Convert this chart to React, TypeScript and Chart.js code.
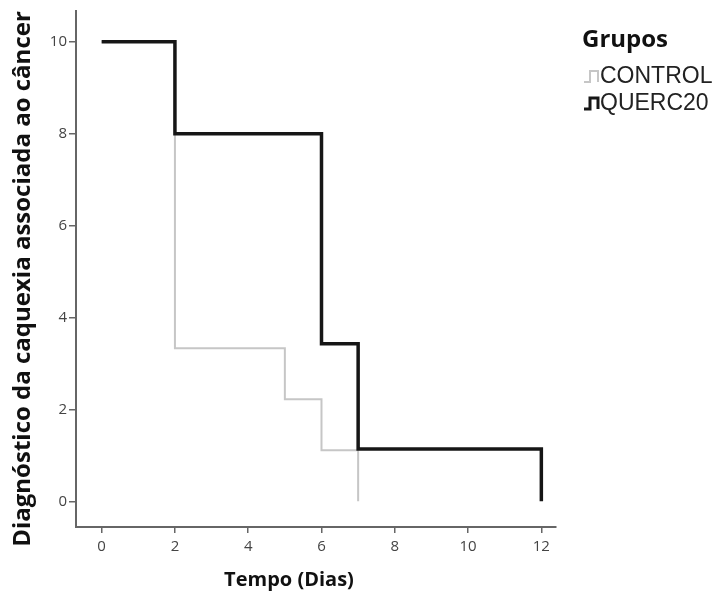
import React, { useEffect, useRef } from "react";
import { Chart, registerables } from "chart.js";

Chart.register(...registerables);

const controlX = [0, 2, 2, 5, 5, 6, 6, 7, 7];
const controlY = [10, 10, 3.33, 3.33, 2.22, 2.22, 1.11, 1.11, 0];
const quercX = [0, 2, 2, 6, 6, 7, 7, 12, 12];
const quercY = [10, 10, 8, 8, 3.43, 3.43, 1.14, 1.14, 0];
const xTicks = [0, 2, 4, 6, 8, 10, 12];
const yTicks = [0, 2, 4, 6, 8, 10];
const seriesNames = ["CONTROL", "QUERC20"];
const seriesColors = ["#c6c6c6", "#161616"];
const legendTitle = "Grupos";
const xTitle = "Tempo (Dias)";
const yTitle = "Diagnóstico da caquexia associada ao câncer";

const titlesPlugin = {
  id: "customTitles",
  afterDraw(chart: any) {
    const ctx = chart.ctx;
    ctx.save();
    ctx.fillStyle = "#111";
    ctx.textAlign = "center";
    ctx.textBaseline = "middle";
    ctx.font = "bold 20px 'Open Sans'";
    ctx.fillText(xTitle, 289, 580);
    ctx.translate(23, 279);
    ctx.rotate(-Math.PI / 2);
    ctx.font = "bold 24px 'Open Sans'";
    ctx.fillText(yTitle, 0, 0);
    ctx.restore();

    // legend
    ctx.save();
    ctx.fillStyle = "#111";
    ctx.font = "bold 24px 'Open Sans'";
    ctx.textAlign = "left";
    ctx.textBaseline = "middle";
    ctx.fillText(legendTitle, 582, 40);
    const rows = [76, 103];
    seriesNames.forEach((name, i) => {
      const cy = rows[i];
      ctx.strokeStyle = seriesColors[i];
      ctx.lineWidth = i === 0 ? 2 : 3;
      ctx.beginPath();
      ctx.moveTo(584, cy + 6);
      ctx.lineTo(590, cy + 6);
      ctx.lineTo(590, cy - 5);
      ctx.lineTo(598, cy - 5);
      ctx.lineTo(598, cy + 6);
      ctx.stroke();
      ctx.fillStyle = "#222";
      ctx.font = "23px 'Liberation Sans'";
      ctx.fillText(name, 600, cy + 1);
    });
    ctx.restore();
  },
};

export default function App() {
  const ref = useRef<HTMLCanvasElement>(null);
  useEffect(() => {
    document.body.style.margin = "0";
    const mk = (xs: number[], ys: number[]) => xs.map((x, i) => ({ x, y: ys[i] }));
    const chart = new Chart(ref.current!, {
      type: "line",
      data: {
        datasets: [
          {
            label: seriesNames[0],
            data: mk(controlX, controlY),
            borderColor: seriesColors[0],
            borderWidth: 2,
            pointRadius: 0,
            fill: false,
            tension: 0,
            order: 2,
          },
          {
            label: seriesNames[1],
            data: mk(quercX, quercY),
            borderColor: seriesColors[1],
            borderWidth: 3.5,
            pointRadius: 0,
            fill: false,
            tension: 0,
            order: 1,
          },
        ],
      },
      options: {
        animation: false,
        responsive: false,
        layout: { padding: { top: 8, right: 161, left: 0, bottom: 0 } },
        plugins: { legend: { display: false }, tooltip: { enabled: false } },
        scales: {
          x: {
            type: "linear",
            min: -0.7,
            max: 12.4,
            afterBuildTicks: (s: any) => {
              s.ticks = xTicks.map((v) => ({ value: v }));
            },
            afterFit: (s: any) => {
              s.height = 73;
            },
            grid: { drawOnChartArea: false, drawTicks: true, tickLength: 6, color: "#666", lineWidth: 1.5 },
            border: { display: true, color: "#666", width: 2 },
            ticks: { color: "#444", font: { family: "'Open Sans'", size: 15 }, padding: 5, maxRotation: 0 },
          },
          y: {
            type: "linear",
            min: -0.56,
            max: 10.67,
            afterBuildTicks: (s: any) => {
              s.ticks = yTicks.map((v) => ({ value: v }));
            },
            afterFit: (s: any) => {
              s.width = 76;
            },
            grid: { drawOnChartArea: false, drawTicks: true, tickLength: 7, color: "#666", lineWidth: 1.5 },
            border: { display: true, color: "#666", width: 2 },
            ticks: { color: "#444", font: { family: "'Open Sans'", size: 15 }, padding: 2 },
          },
        },
      },
      plugins: [titlesPlugin],
    });
    return () => chart.destroy();
  }, []);
  return <canvas ref={ref} width={717} height={600} style={{ display: "block" }} />;
}
